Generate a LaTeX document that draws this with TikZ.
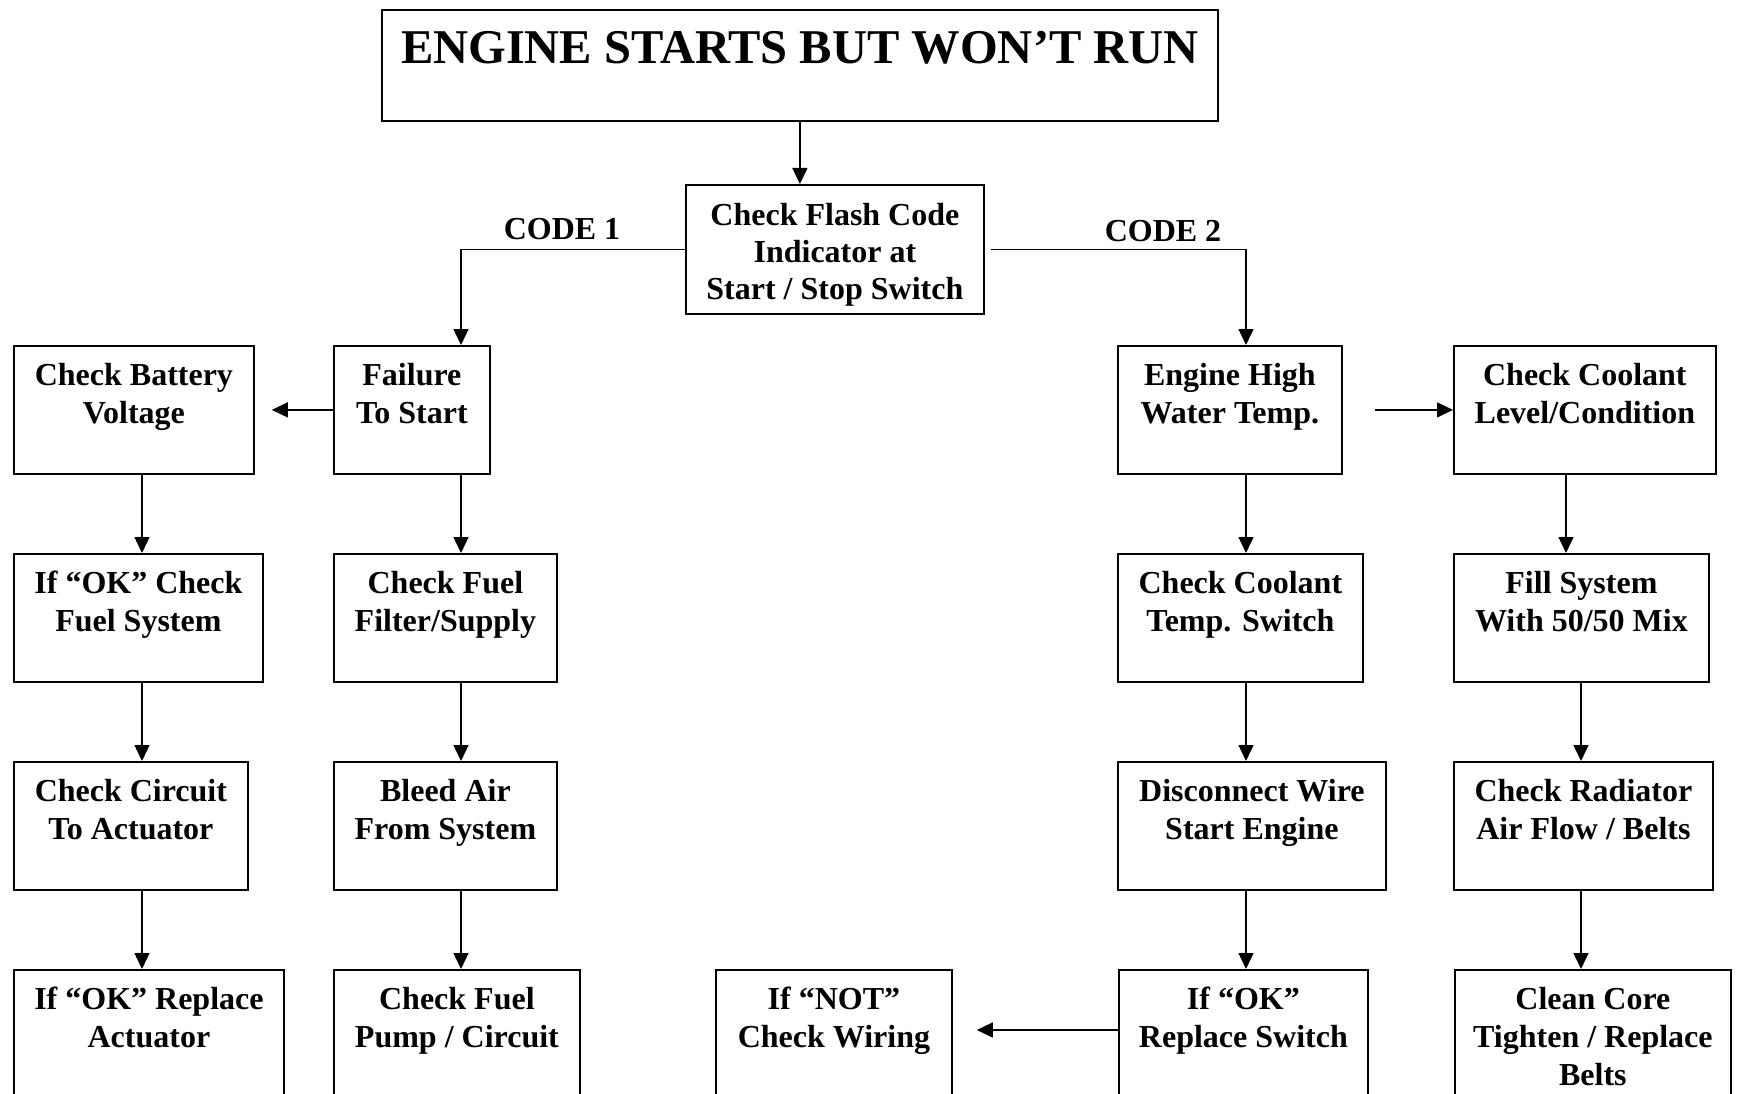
\documentclass[tikz,border=0pt]{standalone}
\usepackage{fontspec}
\setmainfont{Liberation Serif}
\usetikzlibrary{arrows.meta}
\tikzset{
  box/.style={draw, line width=1.8pt, inner sep=0pt, anchor=north west},
  txt/.style={inner sep=0pt, anchor=north, align=center, font=\fontsize{32}{38}\selectfont\bfseries},
  ttl/.style={inner sep=0pt, anchor=north, align=center, font=\fontsize{48.5}{54}\selectfont\bfseries},
  lbl/.style={inner sep=0pt, anchor=base, font=\fontsize{32}{38}\selectfont\bfseries},
  arr/.style={line width=1.4pt, -{Triangle[length=16pt,width=15pt]}},
  ln/.style={line width=1.4pt}
}
\begin{document}
\begin{tikzpicture}[x=1pt,y=-1pt]
\useasboundingbox (0,0) rectangle (1743,1094);
\clip (0,0) rectangle (1743,1094);
\fill[white] (0,0) rectangle (1743,1094);

% title and flash code
\node[box, minimum width=836, minimum height=111] (title) at (381,9) {};
\node[ttl] (titleT) at ([yshift=-22pt]title.north) {ENGINE STARTS BUT WON’T RUN};
\node[box, minimum width=298, minimum height=129] (flash) at (685,184) {};
\node[txt] (flashT) at ([yshift=-19pt]flash.north) {Check Flash Code\\[-1pt]Indicator at\\[-1pt]Start / Stop Switch};

\node[lbl] (code1) at (562,240) {CODE 1};
\node[lbl] (code2) at (1163,242) {CODE 2};

% row 1
\node[box, minimum width=240, minimum height=128] (bat) at (13,345) {};
\node[box, minimum width=156, minimum height=128] (fail) at (333,345) {};
\node[box, minimum width=224, minimum height=128] (high) at (1117,345) {};
\node[box, minimum width=262, minimum height=128] (level) at (1453,345) {};
% row 2
\node[box, minimum width=249, minimum height=128] (okfuel) at (13,553) {};
\node[box, minimum width=223, minimum height=128] (filter) at (333,553) {};
\node[box, minimum width=245, minimum height=128] (ctemp) at (1117,553) {};
\node[box, minimum width=255, minimum height=128] (fill) at (1453,553) {};
% row 3
\node[box, minimum width=234, minimum height=128] (circ) at (13,761) {};
\node[box, minimum width=223, minimum height=128] (bleed) at (333,761) {};
\node[box, minimum width=268, minimum height=128] (disc) at (1117,761) {};
\node[box, minimum width=259, minimum height=128] (rad) at (1453,761) {};
% row 4
\node[box, minimum width=270, minimum height=140] (repl) at (13,969) {};
\node[box, minimum width=246, minimum height=140] (pump) at (333,969) {};
\node[box, minimum width=236, minimum height=140] (notw) at (715,969) {};
\node[box, minimum width=249, minimum height=140] (okrep) at (1118,969) {};
\node[box, minimum width=276, minimum height=140] (clean) at (1454,969) {};

% texts
\node[txt] (batT) at ([yshift=-18pt]bat.north) {Check Battery\\Voltage};
\node[txt] (failT) at ([yshift=-18pt]fail.north) {Failure\\To Start};
\node[txt] (highT) at ([yshift=-18pt]high.north) {Engine High\\Water Temp.};
\node[txt] (levelT) at ([yshift=-18pt]level.north) {Check Coolant\\Level/Condition};
\node[txt] (okfuelT) at ([yshift=-18pt]okfuel.north) {If “OK” Check\\Fuel System};
\node[txt] (filterT) at ([yshift=-18pt]filter.north) {Check Fuel\\Filter/Supply};
\node[txt] (ctempT) at ([yshift=-18pt]ctemp.north) {Check Coolant\\Temp. Switch};
\node[txt] (fillT) at ([yshift=-18pt]fill.north) {Fill System\\With 50/50 Mix};
\node[txt] (circT) at ([yshift=-18pt]circ.north) {Check Circuit\\To Actuator};
\node[txt] (bleedT) at ([yshift=-18pt]bleed.north) {Bleed Air\\From System};
\node[txt] (discT) at ([yshift=-18pt]disc.north) {Disconnect Wire\\Start Engine};
\node[txt] (radT) at ([yshift=-18pt]rad.north) {Check Radiator\\Air Flow / Belts};
\node[txt] (replT) at ([yshift=-18pt]repl.north) {If “OK” Replace\\Actuator};
\node[txt] (pumpT) at ([yshift=-18pt]pump.north) {Check Fuel\\Pump / Circuit};
\node[txt] (notwT) at ([yshift=-18pt]notw.north) {If “NOT”\\Check Wiring};
\node[txt] (okrepT) at ([yshift=-18pt]okrep.north) {If “OK”\\Replace Switch};
\node[txt] (cleanT) at ([yshift=-18pt]clean.north) {Clean Core\\Tighten / Replace\\Belts};

% column coordinates
\coordinate (colA) at (142,0);
\coordinate (colB) at (461,0);
\coordinate (colC) at (1246,0);
\coordinate (colD) at (1566,0);
\coordinate (colE) at (1581,0);

% connectors
\draw[arr] (title.south) -- (title.south |- flash.north);
\draw[arr] (flash.west) -| (colB |- fail.north);
\draw[arr] ([xshift=6pt]flash.east) -| (colC |- high.north);

\draw[arr] (fail.west) -- ([xshift=17pt]bat.east);
\draw[arr] ([xshift=32pt]high.east) -- (level.west);

\draw[arr] (colA |- bat.south) -- (colA |- okfuel.north);
\draw[arr] (colA |- okfuel.south) -- (colA |- circ.north);
\draw[arr] (colA |- circ.south) -- (colA |- repl.north);

\draw[arr] (colB |- fail.south) -- (colB |- filter.north);
\draw[arr] (colB |- filter.south) -- (colB |- bleed.north);
\draw[arr] (colB |- bleed.south) -- (colB |- pump.north);

\draw[arr] (colC |- high.south) -- (colC |- ctemp.north);
\draw[arr] (colC |- ctemp.south) -- (colC |- disc.north);
\draw[arr] (colC |- disc.south) -- (colC |- okrep.north);

\draw[arr] (colD |- level.south) -- (colD |- fill.north);
\draw[arr] (colE |- fill.south) -- (colE |- rad.north);
\draw[arr] (colE |- rad.south) -- (colE |- clean.north);

\draw[arr] ([yshift=-61pt]okrep.north west) -- ([xshift=24pt,yshift=-61pt]notw.north east);
\end{tikzpicture}
\end{document}
